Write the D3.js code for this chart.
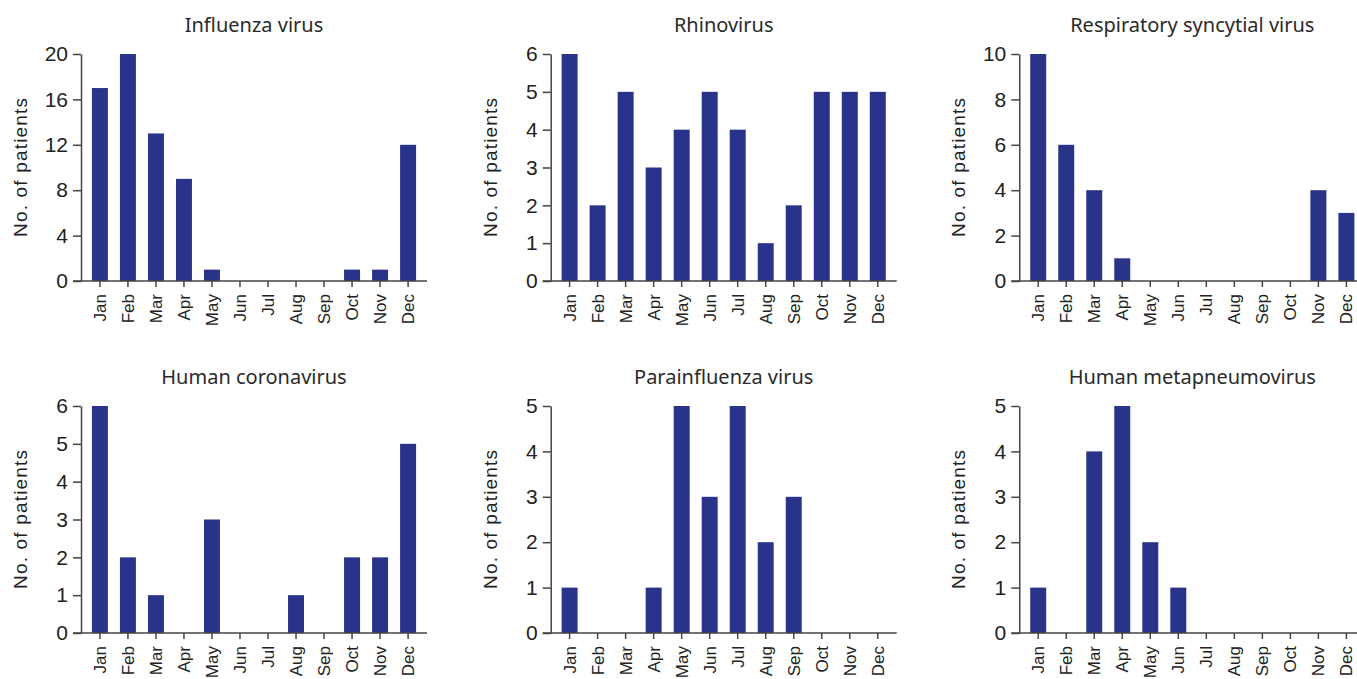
<!DOCTYPE html>
<html>
<head>
<meta charset="utf-8">
<script src="https://cdn.jsdelivr.net/npm/d3@7"></script>
<style>
  html, body { margin: 0; padding: 0; background: #fff; }
  svg { display: block; }
</style>
</head>
<body>
<svg id="chart" width="1357" height="679"></svg>
<script>
const months = ["Jan","Feb","Mar","Apr","May","Jun","Jul","Aug","Sep","Oct","Nov","Dec"];

const titles = ["Influenza virus","Rhinovirus","Respiratory syncytial virus","Human coronavirus","Parainfluenza virus","Human metapneumovirus"];

const influenza     = [17,20,13,9,1,0,0,0,0,1,1,12];
const rhinovirus    = [6,2,5,3,4,5,4,1,2,5,5,5];
const rsv           = [10,6,4,1,0,0,0,0,0,0,4,3];
const coronavirus   = [6,2,1,0,3,0,0,1,0,2,2,5];
const parainfluenza = [1,0,0,1,5,3,5,2,3,0,0,0];
const metapneumo    = [1,0,4,5,2,1,0,0,0,0,0,0];

const yMaxes = [20,6,10,6,5,5];
const yTickSets = [
  [0,4,8,12,16,20],
  [0,1,2,3,4,5,6],
  [0,2,4,6,8,10],
  [0,1,2,3,4,5,6],
  [0,1,2,3,4,5],
  [0,1,2,3,4,5]
];
const seriesList = [influenza, rhinovirus, rsv, coronavirus, parainfluenza, metapneumo];

const yLabel = "No. of patients";

// layout
const colX = [81, 550.7, 1019.3];
const rowTop = [54, 406];
const plotH = 227;
const plotW = 346;
const barColor = "#283389";
const axisColor = "#444";
const textColor = "#222";

const svg = d3.select("#chart");

seriesList.forEach((vals, i) => {
  const col = i % 3, row = Math.floor(i / 3);
  const x0 = colX[col], y0 = rowTop[row];
  const g = svg.append("g").attr("transform", `translate(${x0},${y0})`);

  const x = d3.scaleBand().domain(months).range([0, plotW]).paddingInner(0.43).paddingOuter(0.39);
  const y = d3.scaleLinear().domain([0, yMaxes[i]]).range([plotH, 0]);

  // bars
  g.selectAll("rect.bar").data(vals).join("rect")
    .attr("class", "bar")
    .attr("x", (d, j) => x(months[j]))
    .attr("width", x.bandwidth())
    .attr("y", d => y(d))
    .attr("height", d => plotH - y(d))
    .attr("fill", barColor);

  // y axis
  const yAxis = d3.axisLeft(y).tickValues(yTickSets[i]).tickFormat(d3.format("d"))
    .tickSize(8).tickPadding(5).tickSizeOuter(0);
  const ya = g.append("g").call(yAxis);
  ya.select(".domain").attr("stroke", axisColor).attr("stroke-width", 1.5);
  ya.selectAll(".tick line").attr("stroke", axisColor).attr("stroke-width", 1.5);
  ya.selectAll(".tick text").attr("fill", textColor)
    .style("font-family", "'Liberation Sans', Arial, sans-serif").style("font-size", "21px");

  // x axis
  const xAxis = d3.axisBottom(x).tickSize(6).tickSizeOuter(0);
  const xa = g.append("g").attr("transform", `translate(0,${plotH})`).call(xAxis);
  xa.select(".domain").remove();
  xa.append("line").attr("x1", -8).attr("x2", plotW).attr("y1", 0).attr("y2", 0)
    .attr("stroke", axisColor).attr("stroke-width", 1.5);
  xa.selectAll(".tick line").attr("stroke", axisColor).attr("stroke-width", 1.5);
  xa.selectAll(".tick text")
    .attr("fill", textColor)
    .style("font-family", "'Liberation Sans', Arial, sans-serif").style("font-size", "17px")
    .attr("text-anchor", "end")
    .attr("transform", "rotate(-90)")
    .attr("x", -13).attr("y", 0).attr("dy", "0.35em");

  // y title
  g.append("text")
    .attr("transform", `translate(-54,${plotH / 2}) rotate(-90)`)
    .attr("text-anchor", "middle")
    .attr("fill", textColor)
    .style("font-family", "'Liberation Sans', Arial, sans-serif").style("font-size", "19px")
    .attr("textLength", 139).attr("lengthAdjust", "spacing")
    .text(yLabel);

  // title
  g.append("text")
    .attr("x", plotW / 2).attr("y", -22)
    .attr("text-anchor", "middle")
    .attr("fill", "#2a2a2a")
    .style("font-family", "'Noto Sans', sans-serif").style("font-size", "20px")
    .text(titles[i]);
});
</script>
</body>
</html>
